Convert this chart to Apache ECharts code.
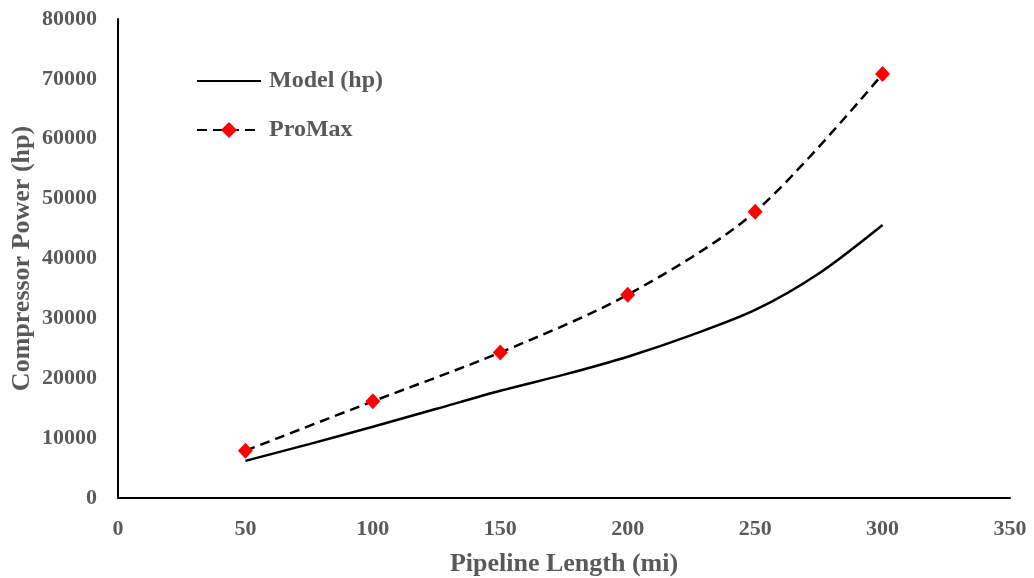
<!DOCTYPE html>
<html>
<head>
<meta charset="utf-8">
<script src="https://cdn.jsdelivr.net/npm/echarts@6/dist/echarts.min.js"></script>
<style>
    html, body { margin: 0; padding: 0; background: #fff; }
    #chart { width: 1034px; height: 578px; }
</style>
</head>
<body>
<div id="chart"></div>
<script type="text/javascript">
    // pipeline length (mi) and compressor power (hp)
    var modelLength = [50, 75, 100, 125, 150, 175, 200, 225, 250, 275, 300];
    var modelPower = [6200, 9000, 11900, 14900, 17900, 20600, 23600, 27200, 31400, 37500, 45600];
    var promaxLength = [50, 100, 150, 200, 250, 300];
    var promaxPower = [7900, 16150, 24300, 33950, 47800, 70800];

    function pairs(xs, ys) {
        var out = [];
        for (var i = 0; i < xs.length; i++) out.push([xs[i], ys[i]]);
        return out;
    }

    var font = '"Liberation Serif", "Times New Roman", serif';
    var grey = '#595959';

    var myChart = echarts.init(document.getElementById('chart'));
    var option = {
        animation: false,
        grid: { left: 118, right: 24, top: 19, bottom: 80, outerBoundsMode: 'none', containLabel: false },
        legend: {
            orient: 'vertical',
            left: 191,
            top: 64,
            itemWidth: 64,
            itemHeight: 20,
            itemGap: 25,
            textStyle: { fontFamily: font, fontSize: 24, fontWeight: 'bold', color: grey, padding: [0, 0, 0, 3] },
            data: [
                { name: 'Model (hp)', itemStyle: { opacity: 0 } },
                'ProMax'
            ]
        },
        xAxis: {
            type: 'value',
            min: 0, max: 350, interval: 50,
            name: 'Pipeline Length (mi)',
            nameLocation: 'middle',
            nameGap: 53,
            nameTextStyle: { fontFamily: font, fontSize: 26, fontWeight: 'bold', color: grey },
            axisLine: { lineStyle: { color: '#000', width: 2 } },
            axisTick: { show: false },
            splitLine: { show: false },
            axisLabel: { margin: 20, fontFamily: font, fontSize: 22, fontWeight: 'bold', color: grey }
        },
        yAxis: {
            type: 'value',
            min: 0, max: 80000, interval: 10000,
            name: 'Compressor Power (hp)',
            nameLocation: 'middle',
            nameGap: 83,
            nameMoveOverlap: false,
            nameTextStyle: { fontFamily: font, fontSize: 26, fontWeight: 'bold', color: grey },
            axisLine: { show: true, lineStyle: { color: '#000', width: 2 } },
            axisTick: { show: false },
            splitLine: { show: false },
            axisLabel: {
                margin: 21, fontFamily: font, fontSize: 22, fontWeight: 'bold', color: grey,
                formatter: function (v) { return String(v); }
            }
        },
        series: [
            {
                name: 'Model (hp)',
                type: 'line',
                smooth: 0.3,
                showSymbol: false,
                symbol: 'none',
                lineStyle: { color: '#000', width: 2.5 },
                itemStyle: { color: '#000' },
                data: pairs(modelLength, modelPower)
            },
            {
                name: 'ProMax',
                type: 'line',
                smooth: 0.3,
                symbol: 'diamond',
                symbolSize: [15, 16],
                lineStyle: { color: '#000', width: 2.5, type: [10, 6] },
                itemStyle: { color: '#ff0000', borderWidth: 0 },
                data: pairs(promaxLength, promaxPower)
            }
        ]
    };
    myChart.setOption(option);
    window.onresize = function () {
        myChart.resize();
    };
</script>
</body>
</html>
